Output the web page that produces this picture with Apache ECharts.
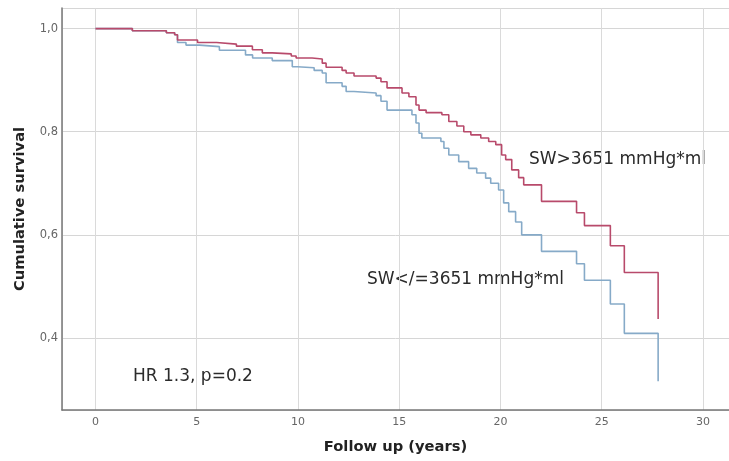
<!DOCTYPE html>
<html>
<head>
<meta charset="utf-8">
<script src="https://cdn.jsdelivr.net/npm/echarts@6/dist/echarts.min.js"></script>
<style>
html,body{margin:0;padding:0;background:#fff;}
#chart{width:729px;height:461px;}
</style>
</head>
<body>
<div id="chart"></div>
<script>
// Kaplan-Meier step data (follow-up years, cumulative survival)
var highTime = [0, 1.82, 3.50, 3.91, 4.05, 5.04, 5.98, 6.96, 7.75, 8.24, 8.73, 9.67, 9.91, 10.70, 11.20, 11.39, 12.18, 12.38, 12.77, 13.86, 14.10, 14.40, 15.14, 15.48, 15.83, 15.98, 16.33, 17.11, 17.45, 17.85, 18.19, 18.54, 19.03, 19.42, 19.77, 20.06, 20.26, 20.56, 20.90, 21.15, 22.03, 23.76, 24.15, 25.43, 26.12, 27.79];
var highSurv = [1.000, 0.996, 0.992, 0.988, 0.978, 0.973, 0.970, 0.966, 0.959, 0.953, 0.951, 0.947, 0.943, 0.941, 0.933, 0.925, 0.919, 0.914, 0.908, 0.904, 0.897, 0.885, 0.875, 0.868, 0.852, 0.842, 0.837, 0.833, 0.820, 0.811, 0.800, 0.794, 0.788, 0.781, 0.775, 0.755, 0.746, 0.726, 0.711, 0.697, 0.665, 0.643, 0.618, 0.579, 0.527, 0.437];

var lowTime = [0, 1.82, 3.50, 3.91, 4.05, 4.47, 5.14, 6.12, 7.41, 7.76, 8.73, 9.72, 9.97, 10.80, 11.20, 11.39, 12.18, 12.38, 12.77, 13.86, 14.10, 14.40, 15.63, 15.83, 15.98, 16.12, 17.06, 17.21, 17.45, 17.94, 18.43, 18.83, 19.27, 19.52, 19.91, 20.16, 20.41, 20.75, 21.05, 22.03, 23.76, 24.15, 25.43, 26.12, 27.79];
var lowSurv = [1.000, 0.996, 0.992, 0.988, 0.973, 0.968, 0.965, 0.958, 0.949, 0.943, 0.938, 0.926, 0.924, 0.919, 0.914, 0.895, 0.888, 0.878, 0.875, 0.870, 0.859, 0.842, 0.833, 0.817, 0.797, 0.788, 0.781, 0.768, 0.755, 0.742, 0.729, 0.720, 0.710, 0.700, 0.687, 0.662, 0.645, 0.625, 0.600, 0.568, 0.544, 0.512, 0.466, 0.409, 0.316];

var highLabel = 'SW>3651 mmHg*ml';
var lowLabel = 'SW</=3651 mmHg*ml';
var statLabel = 'HR 1.3, p=0.2';
var xTitle = 'Follow up (years)';
var yTitle = 'Cumulative survival';

function pairs(t, s) { return t.map(function (v, i) { return [v, s[i]]; }); }

var chart = echarts.init(document.getElementById('chart'));
var txtFont = '17px "DejaVu Sans"';
chart.setOption({
  animation: false,
  backgroundColor: '#ffffff',
  grid: { left: 62, top: 8, right: -4, bottom: 51, containLabel: false },
  xAxis: {
    type: 'value', min: -1.654, max: 31.29,
    name: xTitle, nameLocation: 'middle', nameGap: 30,
    nameTextStyle: { fontFamily: 'DejaVu Sans', fontWeight: 'bold', fontSize: 14.7, color: '#222' },
    axisLine: { show: true, onZero: false, lineStyle: { color: '#777', width: 1.5 } },
    axisTick: { show: false },
    axisLabel: { showMinLabel: false, showMaxLabel: false, margin: 7, fontFamily: 'DejaVu Sans', fontSize: 11, color: '#666' },
    splitLine: { show: true, lineStyle: { color: '#dadada', width: 1 } }
  },
  yAxis: {
    type: 'value', min: 0.2603, max: 1.040,
    name: yTitle, nameLocation: 'middle', nameGap: 34, nameRotate: 90,
    nameTextStyle: { fontFamily: 'DejaVu Sans', fontWeight: 'bold', fontSize: 14.7, color: '#222' },
    axisLine: { show: true, onZero: false, lineStyle: { color: '#777', width: 1.5 } },
    axisTick: { show: false },
    axisLabel: {
      showMinLabel: false, showMaxLabel: false, margin: 4,
      fontFamily: 'DejaVu Sans', fontSize: 11.5, color: '#666',
      formatter: function (v) { return v.toFixed(1).replace('.', ','); }
    },
    splitLine: { show: true, lineStyle: { color: '#d6d6d6', width: 1 } }
  },
  series: [
    {
      type: 'line', step: 'end', showSymbol: false, symbol: 'none',
      data: pairs(lowTime, lowSurv),
      lineStyle: { color: '#86aac8', width: 1.6 }, z: 2
    },
    {
      type: 'line', step: 'end', showSymbol: false, symbol: 'none',
      data: pairs(highTime, highSurv),
      lineStyle: { color: '#b84a6b', width: 1.6 }, z: 3
    }
  ],
  graphic: [
    { type: 'text', style: { text: highLabel, x: 529, y: 160, font: txtFont, fill: '#2b2b2b', verticalAlign: 'middle' } },
    { type: 'text', style: { text: lowLabel, x: 367, y: 280, font: txtFont, fill: '#2b2b2b', verticalAlign: 'middle' } },
    { type: 'text', style: { text: statLabel, x: 133, y: 377, font: txtFont, fill: '#2b2b2b', verticalAlign: 'middle' } }
  ]
});
</script>
</body>
</html>
